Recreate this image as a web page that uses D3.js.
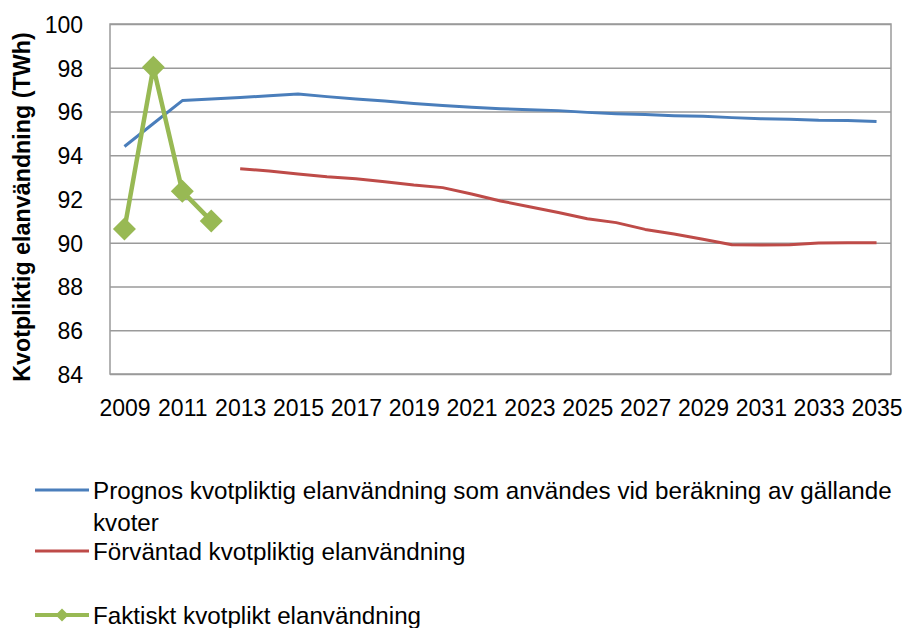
<!DOCTYPE html>
<html>
<head>
<meta charset="utf-8">
<script src="https://cdn.jsdelivr.net/npm/d3@7/dist/d3.min.js"></script>
<style>
    body { margin: 0; background: #fff; }
    text { font-family: "Liberation Sans", Arial, sans-serif; fill: #000; }
    .grid line { stroke: #9a9a9a; stroke-width: 1.5; }
    .grid path { display: none; }
</style>
</head>
<body>
<svg id="chart" width="906" height="628"></svg>
<script>
// data
const years = [2009, 2010, 2011, 2012, 2013, 2014, 2015, 2016, 2017, 2018, 2019, 2020, 2021, 2022,
    2023, 2024, 2025, 2026, 2027, 2028, 2029, 2030, 2031, 2032, 2033, 2034, 2035];

const prognos = [94.4, 95.45, 96.5, 96.57, 96.64, 96.72, 96.8, 96.68, 96.57, 96.48, 96.37, 96.27,
    96.19, 96.13, 96.08, 96.04, 95.96, 95.9, 95.86, 95.81, 95.78, 95.72, 95.67, 95.65, 95.6, 95.59, 95.54];

const forvantad = [null, null, null, null, 93.38, 93.28, 93.14, 93.02, 92.93, 92.79, 92.64, 92.52,
    92.23, 91.91, 91.65, 91.38, 91.1, 90.92, 90.61, 90.4, 90.16, 89.91, 89.9, 89.91, 89.99, 90.0, 90.0];

const faktiskt = [90.63, 98.02, 92.35, 91.0, null, null, null, null, null, null, null, null, null, null,
    null, null, null, null, null, null, null, null, null, null, null, null, null];

const yTicks = [84, 86, 88, 90, 92, 94, 96, 98, 100];
const xTickYears = years.filter((d, i) => i % 2 === 0);

const legendLabels = [
    ["Prognos kvotpliktig elanvändning som användes vid beräkning av gällande", "kvoter"],
    ["Förväntad kvotpliktig elanvändning"],
    ["Faktiskt kvotplikt elanvändning"]
];

const COLORS = {
    prognos: "#4a7ebb",
    forvantad: "#be4b48",
    faktiskt: "#98b954"
};

const plot = { left: 110, right: 891, top: 24, bottom: 374 };

const svg = d3.select("#chart");

const x = d3.scalePoint()
    .domain(years)
    .range([plot.left, plot.right])
    .padding(0.5);

const y = d3.scaleLinear()
    .domain([84, 100])
    .range([plot.bottom, plot.top]);

// gridlines + y labels
const gy = svg.append("g")
    .attr("class", "grid")
    .attr("transform", `translate(${plot.left},0)`)
    .call(d3.axisLeft(y)
        .tickValues(yTicks)
        .tickSize(-(plot.right - plot.left))
        .tickSizeOuter(0)
        .tickPadding(27));

gy.selectAll("text")
    .attr("font-size", 23)
    .attr("fill", "#000")
    .attr("dy", "0.36em");

// plot border
svg.append("rect")
    .attr("x", plot.left)
    .attr("y", plot.top)
    .attr("width", plot.right - plot.left)
    .attr("height", plot.bottom - plot.top)
    .attr("fill", "none")
    .attr("stroke", "#9a9a9a")
    .attr("stroke-width", 1.5);

// x labels
const gx = svg.append("g")
    .attr("transform", `translate(0,${plot.bottom})`)
    .call(d3.axisBottom(x)
        .tickValues(xTickYears)
        .tickSize(0)
        .tickFormat(d3.format("d")));

gx.select(".domain").remove();
gx.selectAll("text")
    .attr("font-size", 23)
    .attr("fill", "#000")
    .attr("dy", "0.71em")
    .attr("y", 26);

// axis title
svg.append("text")
    .attr("transform", `translate(30,${(plot.top + plot.bottom) / 2 + 8}) rotate(-90)`)
    .attr("text-anchor", "middle")
    .attr("font-size", 23.3)
    .attr("font-weight", "bold")
    .text("Kvotpliktig elanvändning (TWh)");

// lines
const line = d3.line()
    .defined(d => d.v !== null)
    .x(d => x(d.year))
    .y(d => y(d.v));

function series(values) {
    return years.map((year, i) => ({ year: year, v: values[i] }));
}

svg.append("path")
    .datum(series(prognos))
    .attr("fill", "none")
    .attr("stroke", COLORS.prognos)
    .attr("stroke-width", 3)
    .attr("stroke-linejoin", "round")
    .attr("d", line);

svg.append("path")
    .datum(series(forvantad))
    .attr("fill", "none")
    .attr("stroke", COLORS.forvantad)
    .attr("stroke-width", 3)
    .attr("stroke-linejoin", "round")
    .attr("d", line);

const fakt = series(faktiskt).filter(d => d.v !== null);

svg.append("path")
    .datum(fakt)
    .attr("fill", "none")
    .attr("stroke", COLORS.faktiskt)
    .attr("stroke-width", 4.5)
    .attr("stroke-linejoin", "round")
    .attr("d", line);

const diamond = r => `M0,${-r}L${r},0L0,${r}L${-r},0Z`;

svg.append("g")
    .selectAll("path")
    .data(fakt)
    .enter()
    .append("path")
    .attr("transform", d => `translate(${x(d.year)},${y(d.v)})`)
    .attr("d", diamond(11.5))
    .attr("fill", COLORS.faktiskt);

/* =========================
   LEGEND
========================= */

const legendKeys = ["prognos", "forvantad", "faktiskt"];
const legendY = [490, 551, 615];

const legend = svg.append("g");

legendKeys.forEach((key, i) => {
    const g = legend.append("g")
        .attr("transform", `translate(0,${legendY[i]})`);

    g.append("line")
        .attr("x1", 35)
        .attr("x2", 89)
        .attr("stroke", COLORS[key])
        .attr("stroke-width", key === "faktiskt" ? 4 : 3);

    if (key === "faktiskt") {
        g.append("path")
            .attr("transform", "translate(62,0)")
            .attr("d", diamond(6.5))
            .attr("fill", COLORS[key]);
    }

    const t = g.append("text")
        .attr("x", 93)
        .attr("font-size", 24.2)
        .attr("fill", "#111");

    legendLabels[i].forEach((s, j) => {
        t.append("tspan")
            .attr("x", 93)
            .attr("dy", j === 0 ? "0.36em" : 32)
            .text(s);
    });
});
</script>
</body>
</html>
